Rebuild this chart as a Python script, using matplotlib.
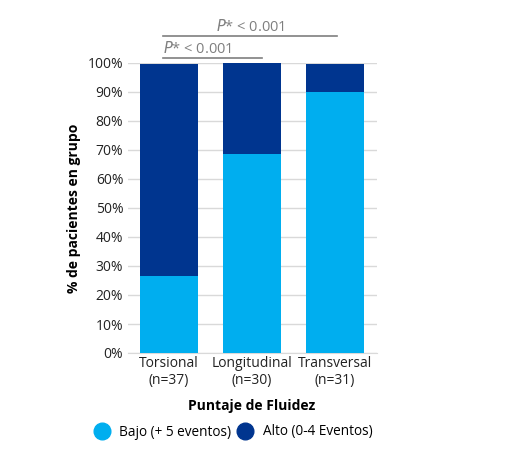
import numpy as np
import matplotlib.pyplot as plt
from matplotlib.lines import Line2D

plt.rcParams["font.family"] = ["Open Sans", "DejaVu Sans"]

# datos
categorias = ["Torsional\n(n=37)", "Longitudinal\n(n=30)", "Transversal\n(n=31)"]
bajo = [26.5, 68.5, 90.0]
alto = [73.0, 31.5, 9.5]
yticks = [0, 10, 20, 30, 40, 50, 60, 70, 80, 90, 100]

c_bajo = "#00AEEF"
c_alto = "#00358F"
gris = "#7f7f7f"

fig = plt.figure(figsize=(5.05, 4.53), dpi=100)
ax = fig.add_axes([127.5 / 505, 1 - 353 / 453, 249 / 505, 290 / 453])

x = np.arange(len(categorias))
ax.bar(x, bajo, width=0.7, color=c_bajo, zorder=3)
ax.bar(x, alto, width=0.7, bottom=bajo, color=c_alto, zorder=3)

ax.set_xlim(-0.5, 2.5)
ax.set_ylim(0, 100)
ax.set_yticks(yticks)
ax.set_yticklabels([f"{v}%" for v in yticks])
ax.set_xticks(x)
ax.set_xticklabels(categorias)
ax.grid(axis="y", color="#d9d9d9", linewidth=1, zorder=0)
for s in ["top", "right", "left"]:
    ax.spines[s].set_visible(False)
ax.spines["bottom"].set_color("#d9d9d9")
ax.tick_params(length=0, labelsize=10, colors="#222222", pad=3)
ax.tick_params(axis="x", pad=2)

ax.set_ylabel("% de pacientes en grupo", fontsize=10, fontweight="bold", labelpad=5)
ax.set_xlabel("Puntaje de Fluidez", fontsize=10, fontweight="bold", labelpad=8)

# significancia
ax.plot([-0.07, 2.02], [109.3, 109.3], color=gris, lw=1.2, clip_on=False)
ax.text(0.98, 109.6, r"$\it{P}$* < 0.001", color=gris, fontsize=10.5, ha="center", va="bottom")
ax.plot([-0.07, 1.12], [101.7, 101.7], color=gris, lw=1.2, clip_on=False)
ax.text(-0.07, 102.0, r"$\it{P}$* < 0.001", color=gris, fontsize=10.5, ha="left", va="bottom")

handles = [
    Line2D([], [], marker="o", ls="", color=c_bajo, markersize=12),
    Line2D([], [], marker="o", ls="", color=c_alto, markersize=12),
]
fig.legend(handles, ["Bajo (+ 5 eventos)", "Alto (0-4 Eventos)"], loc="center",
           bbox_to_anchor=(233 / 505, 1 - 432 / 453), ncol=2, frameon=False,
           fontsize=9.8, handletextpad=0.7, columnspacing=0.4, handlelength=1.2)

fig.savefig("out.png", dpi=100)
